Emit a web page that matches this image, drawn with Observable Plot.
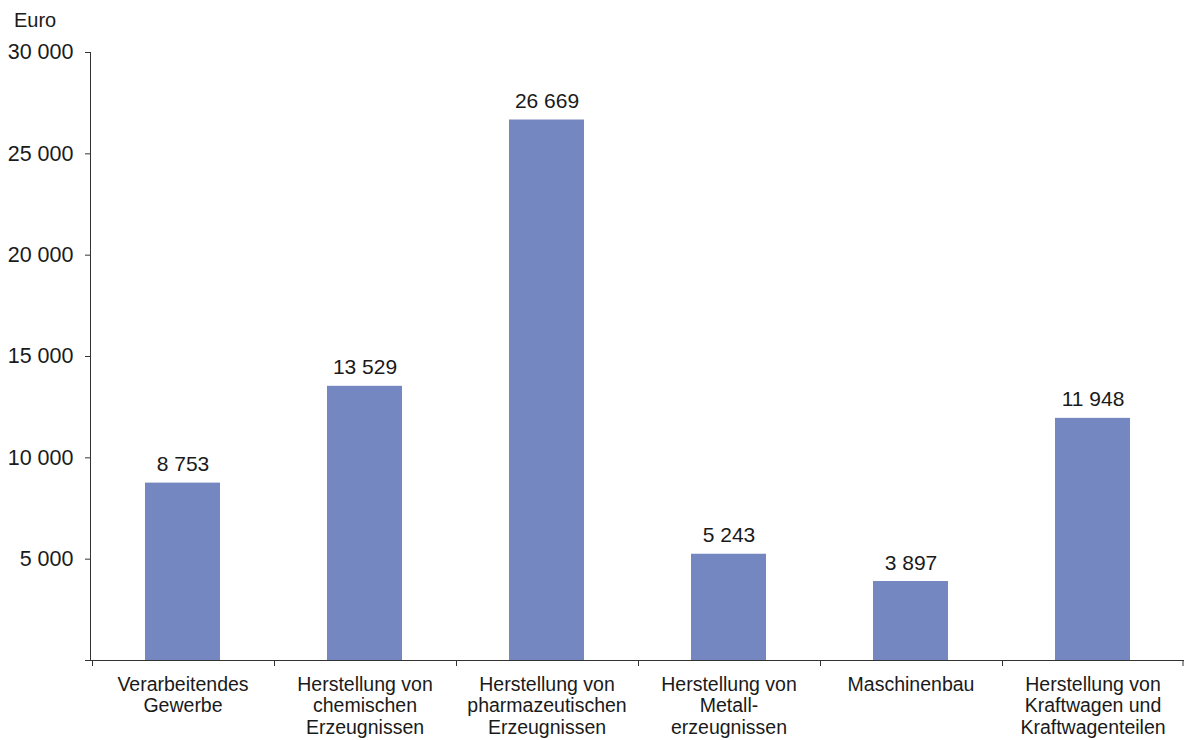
<!DOCTYPE html>
<html><head><meta charset="utf-8">
<script src="https://cdn.jsdelivr.net/npm/d3@7"></script>
<script src="https://cdn.jsdelivr.net/npm/@observablehq/plot@0.6"></script>
<style>
body{margin:0;background:#fff;font-family:"Liberation Sans",Arial,sans-serif;}
#chart{position:relative;width:1184px;height:740px;}
</style></head>
<body><div id="chart"></div>
<script>
const categories = [
  "Verarbeitendes\nGewerbe",
  "Herstellung von\nchemischen\nErzeugnissen",
  "Herstellung von\npharmazeutischen\nErzeugnissen",
  "Herstellung von\nMetall-\nerzeugnissen",
  "Maschinenbau",
  "Herstellung von\nKraftwagen und\nKraftwagenteilen"
];
const values = [8753, 13529, 26669, 5243, 3897, 11948];
const yTicks = [0, 5000, 10000, 15000, 20000, 25000, 30000];
const unitLabel = "Euro";

const data = categories.map((c, i) => ({cat: c, value: values[i]}));
const fmt = d3.formatLocale({decimal: ",", thousands: " ", grouping: [3], currency: ["", " €"]}).format(",");

const chart = Plot.plot({
  width: 1184, height: 740,
  marginTop: 52, marginBottom: 80, marginLeft: 90, marginRight: 0,
  style: {fontFamily: '"Liberation Sans", Arial, sans-serif', fontSize: "20px", color: "#1a1a1a", background: "#fff"},
  x: {domain: categories, paddingInner: 0.59, paddingOuter: 0.295, label: null},
  y: {domain: [0, 30000], label: null},
  marks: [
    Plot.barY(data, {x: "cat", y: "value", fill: "#7587c1"}),
    Plot.text(data, {x: "cat", y: "value", text: d => fmt(d.value), lineAnchor: "bottom", dy: -12, fontSize: 21, fill: "#1a1a1a"}),
    Plot.axisY({ticks: yTicks, tickFormat: d => d === 0 ? "" : fmt(d), tickSize: 5, tickPadding: 12, fontSize: 21.5, stroke: "#333"}),
    Plot.axisX({tickSize: 0, tickPadding: 15, fontSize: 19.5, lineHeight: 1.1}),
    Plot.ruleY([0], {stroke: "#333"})
  ]
});
document.getElementById("chart").appendChild(chart);

// y-axis domain line and category boundary ticks, positioned from Plot's own scales
const sx = chart.scale("x"), sy = chart.scale("y");
const svg = d3.select(chart);
const y0 = sy.apply(0), yTop = sy.apply(30000);
svg.append("line").attr("x1", 90.5).attr("x2", 90.5).attr("y1", y0).attr("y2", yTop).attr("stroke", "#333");
const ticksG = svg.append("g");
categories.forEach(c => {
  const x = Math.round(sx.apply(c) + sx.bandwidth / 2 - sx.step / 2) + 0.5;
  ticksG.append("line").attr("x1", x).attr("x2", x).attr("y1", y0).attr("y2", y0 + 6).attr("stroke", "#333");
});
{
  const c = categories[categories.length - 1];
  const x = sx.apply(c) + sx.bandwidth / 2 + sx.step / 2 - 0.5;
  ticksG.append("line").attr("x1", x).attr("x2", x).attr("y1", y0).attr("y2", y0 + 6).attr("stroke", "#333");
}
// unit label
svg.append("text").attr("x", 14).attr("y", 27).attr("text-anchor", "start")
  .attr("font-size", 20).attr("fill", "#1a1a1a").text(unitLabel);
</script></body></html>
